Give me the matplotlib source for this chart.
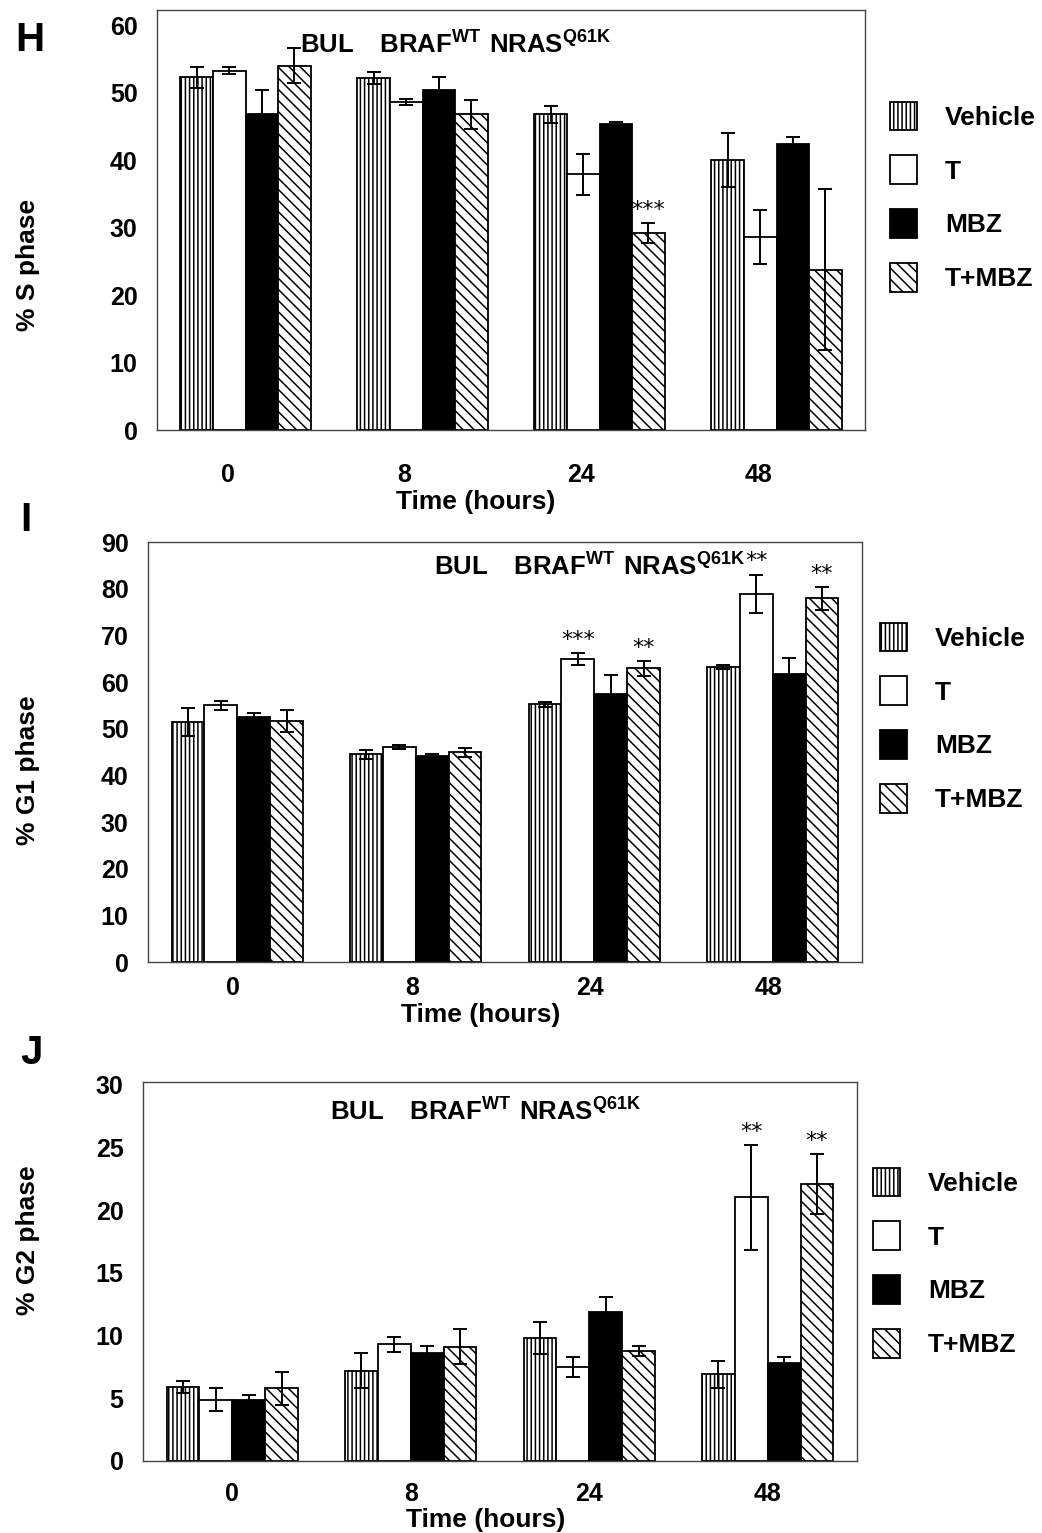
import matplotlib
matplotlib.use("Agg")
import matplotlib.pyplot as plt
import matplotlib.transforms as mtransforms
from matplotlib.patches import Patch
import numpy as np

plt.rcParams['font.family'] = ['Liberation Sans', 'DejaVu Sans']
plt.rcParams['font.weight'] = 'bold'
plt.rcParams['mathtext.fontset'] = 'custom'
plt.rcParams['mathtext.rm'] = 'Liberation Sans:bold'
plt.rcParams['mathtext.bf'] = 'Liberation Sans:bold'
plt.rcParams['hatch.linewidth'] = 1.1

times = ["0", "8", "24", "48"]
groups = ["Vehicle", "T", "MBZ", "T+MBZ"]

# % S phase
s_vals = [[52.3, 52.2, 46.8, 40.0],
          [53.3, 48.7, 37.9, 28.6],
          [46.8, 50.5, 45.4, 42.4],
          [54.0, 46.8, 29.2, 23.8]]
s_err = [[1.5, 0.9, 1.2, 4.0],
         [0.5, 0.45, 3.0, 4.0],
         [3.7, 1.9, 0.3, 1.0],
         [2.6, 2.2, 1.5, 11.9]]
s_stars = {(3, 2): "***"}

# % G1 phase
g1_vals = [[51.4, 44.5, 55.2, 63.2],
           [55.0, 46.0, 64.9, 78.9],
           [52.5, 44.1, 57.4, 61.7],
           [51.7, 44.9, 62.9, 77.9]]
g1_err = [[3.0, 0.9, 0.6, 0.4],
          [0.9, 0.4, 1.3, 4.1],
          [0.9, 0.4, 4.1, 3.4],
          [2.4, 0.9, 1.6, 2.4]]
g1_stars = {(1, 2): "***", (3, 2): "**", (1, 3): "**", (3, 3): "**"}

# % G2 phase
g2_vals = [[5.9, 7.2, 9.8, 6.9],
           [4.9, 9.3, 7.5, 21.0],
           [4.9, 8.6, 11.9, 7.8],
           [5.8, 9.1, 8.8, 22.1]]
g2_err = [[0.5, 1.4, 1.3, 1.1],
          [0.9, 0.6, 0.8, 4.2],
          [0.35, 0.6, 1.2, 0.5],
          [1.3, 1.4, 0.4, 2.4]]
g2_stars = {(1, 3): "**", (3, 3): "**"}

fills = ["white", "white", "black", "white"]
hatches = ["||||", None, None, "\\\\\\"]

W, H = 1042, 1533
fig = plt.figure(figsize=(W / 100, H / 100), dpi=100)


def px_axes(l, t, r, b):
    return fig.add_axes([l / W, 1 - b / H, (r - l) / W, (b - t) / H])


def panel(box, vals, errs, stars, ymax, yticks, letter, letter_xy, ylab, ylab_xy,
          title_xy, xlab_xy, leg_xy, xoff, xpad):
    ax = px_axes(*box)
    x = np.arange(len(times))
    bw = 0.184
    for i in range(4):
        pos = x + (i - 1.5) * bw
        ax.bar(pos, vals[i], bw, color=fills[i], edgecolor="black",
               hatch=hatches[i], linewidth=1.3, zorder=2)
        ax.errorbar(pos, vals[i], yerr=errs[i], fmt="none", ecolor="black",
                    elinewidth=1.4, capsize=5, capthick=1.4, zorder=3)
    for (i, j), s in stars.items():
        px = x[j] + (i - 1.5) * bw
        py = vals[i][j] + errs[i][j] + ymax * 0.008
        ax.text(px, py, s, ha="center", va="bottom", fontsize=16,
                fontweight="normal", family="DejaVu Sans")
    ax.set_xlim(-0.5, 3.5)
    ax.set_ylim(0, ymax)
    ax.set_yticks(yticks)
    ax.set_xticks(x)
    ax.set_xticklabels(times)
    ax.tick_params(length=0, labelsize=18, pad=14)
    ax.tick_params(axis="x", pad=xpad)
    off = mtransforms.ScaledTranslation(xoff / 100, 0, fig.dpi_scale_trans)
    for lab in ax.get_xticklabels():
        lab.set_transform(lab.get_transform() + off)
    for sp in ax.spines.values():
        sp.set_color("#444444")
        sp.set_linewidth(1.0)
    fig.text(letter_xy[0] / W, 1 - letter_xy[1] / H, letter, fontsize=29,
             ha="left", va="center")
    fig.text(ylab_xy[0] / W, 1 - ylab_xy[1] / H, ylab, fontsize=19,
             rotation=90, ha="center", va="center")
    fig.text(xlab_xy[0] / W, 1 - xlab_xy[1] / H, "Time (hours)", fontsize=19,
             ha="center", va="center")
    fig.text(title_xy[0] / W, 1 - title_xy[1] / H,
             r"$\mathbf{BUL\ \ \ BRAF^{WT}\ NRAS^{Q61K}}$", fontsize=18.5,
             ha="left", va="center")
    handles = [Patch(facecolor=fills[i], edgecolor="black", hatch=hatches[i],
                     linewidth=1.3, label=groups[i]) for i in range(4)]
    fig.legend(handles=handles, loc="upper left",
               bbox_to_anchor=(leg_xy[0] / W, 1 - leg_xy[1] / H),
               frameon=False, fontsize=19, handlelength=1.05, handleheight=1.3,
               labelspacing=0.95, handletextpad=1.05, borderaxespad=0)
    return ax


panel((157, 10, 865, 430), s_vals, s_err, s_stars, 62.3, range(0, 61, 10),
      "H", (15, 40), "% S phase", (28, 265), (300, 45), (476, 502),
      (879, 91), -18, 24)
panel((148, 542, 862, 962), g1_vals, g1_err, g1_stars, 90, range(0, 91, 10),
      "I", (20, 520), "% G1 phase", (28, 770), (434, 567), (481, 1015),
      (869, 612), -4, 10)
panel((143, 1082, 857, 1461), g2_vals, g2_err, g2_stars, 30.2, range(0, 31, 5),
      "J", (20, 1053), "% G2 phase", (28, 1240), (330, 1112), (486, 1520),
      (862, 1157), 0, 15)

fig.savefig("out.png", dpi=100)
